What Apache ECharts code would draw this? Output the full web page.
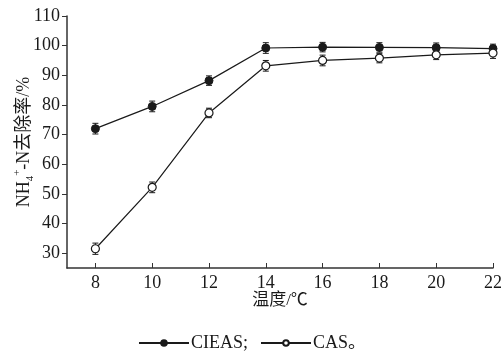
<!DOCTYPE html>
<html><head><meta charset="utf-8">
<script src="https://cdn.jsdelivr.net/npm/echarts@6/dist/echarts.min.js"></script>
<style>html,body{margin:0;padding:0;background:#fff}#c{width:504px;height:354px}</style>
</head><body><div id="c"></div>
<script>
const temps = [8, 10, 12, 14, 16, 18, 20, 22];
const cieas = [72.0, 79.5, 88.2, 99.2, 99.5, 99.4, 99.3, 99.0];
const cieasErr = [1.8, 1.8, 1.6, 1.8, 1.6, 1.6, 1.6, 1.5];
const cas = [31.5, 52.2, 77.3, 93.2, 95.0, 95.8, 96.9, 97.5];
const casErr = [1.9, 1.8, 1.6, 1.8, 1.8, 1.6, 1.6, 1.8];
const xTicks = [8, 10, 12, 14, 16, 18, 20, 22];
const yTicks = [30, 40, 50, 60, 70, 80, 90, 100, 110];
const names = ['CIEAS', 'CAS'];

const serif = '"Liberation Serif","Times New Roman","Noto Sans CJK SC",serif';
const ink = '#1a1a1a';

function pairs(xs, ys){ return xs.map((x,i)=>[x, ys[i]]); }
function errData(xs, ys, es){ return xs.map((x,i)=>[x, ys[i]-es[i], ys[i]+es[i]]); }
function errRender(params, api){
  const x = api.value(0);
  const lo = api.coord([x, api.value(1)]);
  const hi = api.coord([x, api.value(2)]);
  const w = 3;
  const st = {stroke: ink, lineWidth: 1};
  return {type:'group', children:[
    {type:'line', shape:{x1:lo[0],y1:lo[1],x2:hi[0],y2:hi[1]}, style:st},
    {type:'line', shape:{x1:lo[0]-w,y1:lo[1],x2:lo[0]+w,y2:lo[1]}, style:st},
    {type:'line', shape:{x1:hi[0]-w,y1:hi[1],x2:hi[0]+w,y2:hi[1]}, style:st}
  ]};
}

const chart = echarts.init(document.getElementById('c'), null, {renderer:'canvas'});
chart.setOption({
  backgroundColor:'#fff',
  animation:false,
  textStyle:{fontFamily:serif, color:ink},
  grid:{left:67, right:11, top:16, bottom:86, containLabel:false, outerBoundsMode:'none'},
  legend:{
    top:329, left:'center', itemWidth:50, itemHeight:7, itemGap:12,
    data:names,
    formatter: n => n === 'CIEAS' ? 'CIEAS;' : 'CAS。',
    textStyle:{fontFamily:serif, fontSize:18, color:ink, padding:[0,0,0,-3]}
  },
  xAxis:{
    type:'value', min:7, max:22,
    name:'温度/℃', nameLocation:'middle', nameGap:24, nameMoveOverlap:false,
    nameTextStyle:{fontFamily:serif, fontSize:17, color:ink},
    axisLine:{lineStyle:{color:'#333', width:1.5}},
    axisTick:{inside:true, length:5, customValues:xTicks, lineStyle:{color:'#333'}},
    axisLabel:{customValues:xTicks, fontFamily:serif, fontSize:18, color:ink, margin:6},
    splitLine:{show:false}
  },
  yAxis:{
    type:'value', min:25, max:110,
    name:'{m|NH}{sub|4}{sup|+}{m|-N去除率/%}', nameLocation:'middle', nameGap:31, nameMoveOverlap:false,
    nameTextStyle:{fontFamily:serif, fontSize:18, color:ink,
      rich:{
        m:{fontFamily:serif, fontSize:18, color:ink, lineHeight:24, verticalAlign:'middle'},
        sub:{fontFamily:serif, fontSize:11, color:ink, lineHeight:24, verticalAlign:'bottom'},
        sup:{fontFamily:serif, fontSize:11, color:ink, lineHeight:24, verticalAlign:'top'}
      }},
    axisLine:{show:true, lineStyle:{color:'#333', width:1.5}},
    axisTick:{show:true, inside:false, length:5, customValues:yTicks, lineStyle:{color:'#333'}},
    axisLabel:{customValues:yTicks, fontFamily:serif, fontSize:18, color:ink, margin:7},
    splitLine:{show:false}
  },
  series:[
    {type:'custom', name:'CIEAS_err', renderItem:errRender, data:errData(temps,cieas,cieasErr), z:1, silent:true},
    {type:'custom', name:'CAS_err', renderItem:errRender, data:errData(temps,cas,casErr), z:1, silent:true},
    {type:'line', name:'CIEAS', data:pairs(temps,cieas), symbol:'circle', symbolSize:8, z:3,
      lineStyle:{color:ink, width:1.2}, itemStyle:{color:ink, borderColor:ink, borderWidth:1}},
    {type:'line', name:'CAS', data:pairs(temps,cas), symbol:'circle', symbolSize:8, z:3,
      lineStyle:{color:ink, width:1.2}, itemStyle:{color:'#fff', borderColor:ink, borderWidth:1.2}}
  ]
});
</script></body></html>
